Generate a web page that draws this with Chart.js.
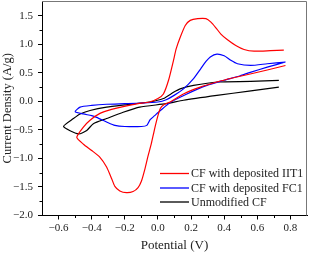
<!DOCTYPE html>
<html>
<head>
<meta charset="utf-8">
<script src="https://cdn.jsdelivr.net/npm/chart.js@4"></script>
<style>
html,body{margin:0;padding:0;background:#fff;}
#wrap{width:309px;height:254px;}
</style>
</head>
<body>
<div id="wrap"><canvas id="c" width="309" height="254"></canvas></div>
<script>
// ---- data ----
const seriesLabels = ["CF with deposited IIT1", "CF with deposited FC1", "Unmodified CF"];

const redV = [0.76, 0.68, 0.58, 0.52, 0.47, 0.42, 0.38, 0.35, 0.32, 0.29, 0.24, 0.195, 0.165, 0.134, 0.11, 0.094, 0.064, 0.033, 0.0, -0.05, -0.12, -0.21, -0.28, -0.35, -0.41, -0.45, -0.49,
              -0.45, -0.40, -0.35, -0.31, -0.28, -0.26, -0.23, -0.19, -0.15, -0.12, -0.10, -0.08, -0.06, -0.04, -0.02, 0.0, 0.015, 0.04, 0.074, 0.154, 0.255, 0.356, 0.45, 0.557, 0.66, 0.77];
const redI = [0.90, 0.89, 0.88, 0.91, 0.98, 1.08, 1.18, 1.29, 1.39, 1.45, 1.45, 1.42, 1.33, 1.12, 0.92, 0.72, 0.37, 0.13, 0.05, -0.01, -0.04, -0.09, -0.14, -0.21, -0.33, -0.45, -0.63,
              -0.75, -0.86, -0.98, -1.15, -1.35, -1.49, -1.57, -1.60, -1.58, -1.51, -1.40, -1.20, -0.96, -0.74, -0.48, -0.25, -0.12, -0.05, -0.01, 0.13, 0.25, 0.34, 0.41, 0.48, 0.55, 0.63];

const blueV = [0.77, 0.66, 0.56, 0.48, 0.44, 0.40, 0.356, 0.316, 0.29, 0.26, 0.215, 0.154, 0.10, 0.05, 0.0, -0.1, -0.2, -0.31, -0.40, -0.47, -0.50,
               -0.45, -0.40, -0.37, -0.31, -0.26, -0.2, -0.1, -0.067, -0.047, -0.02, 0.015, 0.074, 0.175, 0.296, 0.40, 0.497, 0.557, 0.66, 0.77];
const blueI = [0.69, 0.66, 0.63, 0.66, 0.72, 0.80, 0.83, 0.78, 0.70, 0.58, 0.40, 0.22, 0.11, 0.03, -0.01, -0.03, -0.04, -0.05, -0.07, -0.10, -0.18,
               -0.22, -0.25, -0.28, -0.36, -0.42, -0.44, -0.44, -0.42, -0.32, -0.25, -0.16, -0.02, 0.13, 0.28, 0.37, 0.45, 0.51, 0.60, 0.69];

const blackV = [0.73, 0.56, 0.36, 0.215, 0.134, 0.094, 0.033, -0.05, -0.2, -0.31, -0.41, -0.47, -0.51, -0.57,
                -0.48, -0.43, -0.39, -0.31, -0.21, -0.11, 0.05, 0.154, 0.356, 0.55, 0.73];
const blackI = [0.37, 0.35, 0.34, 0.28, 0.22, 0.16, 0.05, -0.01, -0.06, -0.10, -0.16, -0.22, -0.30, -0.44,
                -0.57, -0.51, -0.39, -0.30, -0.19, -0.10, -0.04, 0.02, 0.105, 0.18, 0.25];

const xTicks = [-0.6, -0.4, -0.2, 0.0, 0.2, 0.4, 0.6, 0.8];
const yTicks = [-2.0, -1.5, -1.0, -0.5, 0.0, 0.5, 1.0, 1.5];
const xMinor = [-0.5, -0.3, -0.1, 0.1, 0.3, 0.5, 0.7];
const yMinor = [-1.75, -1.25, -0.75, -0.25, 0.25, 0.75, 1.25];

function pts(xs, ys){ return xs.map((x,i)=>({x:x, y:ys[i]})); }
function fmt(v){ const s = Math.abs(v).toFixed(1); return v < -1e-9 ? '\u2212' + s : s; }

const FONT = "'Liberation Serif','Times New Roman',serif";

const framePlugin = {
  id: 'frame',
  afterDraw(chart){
    const ctx = chart.ctx, a = chart.chartArea;
    const xs = chart.scales.x, ys = chart.scales.y;
    ctx.save();
    ctx.strokeStyle = '#777';
    ctx.lineWidth = 1;
    ctx.beginPath();
    ctx.moveTo(a.left, a.top + 0.5); ctx.lineTo(a.right - 0.5, a.top + 0.5); ctx.lineTo(a.right - 0.5, a.bottom);
    ctx.stroke();
    ctx.strokeStyle = '#000';
    ctx.beginPath();
    xMinor.forEach(v => { const px = Math.round(xs.getPixelForValue(v)) + 0.5; ctx.moveTo(px, a.bottom); ctx.lineTo(px, a.bottom + 2.5); });
    yMinor.forEach(v => { const py = Math.round(ys.getPixelForValue(v)) + 0.5; ctx.moveTo(a.left, py); ctx.lineTo(a.left - 2.5, py); });
    ctx.stroke();
    ctx.font = "12px " + FONT;
    ctx.textBaseline = 'middle';
    ctx.textAlign = 'left';
    const offs = [42, 27.5, 13.5];
    chart.data.datasets.forEach((ds, i) => {
      const y = a.bottom - offs[i];
      ctx.strokeStyle = ds.borderColor;
      ctx.lineWidth = 1.3;
      ctx.beginPath(); ctx.moveTo(a.right - 147, y); ctx.lineTo(a.right - 118, y); ctx.stroke();
      ctx.fillStyle = '#222';
      ctx.fillText(ds.label, a.right - 116, y + 0.5);
    });
    ctx.restore();
  }
};

new Chart(document.getElementById('c'), {
  type: 'scatter',
  data: {
    datasets: [
      {label: seriesLabels[0], data: pts(redV, redI), borderColor: '#ff0000'},
      {label: seriesLabels[1], data: pts(blueV, blueI), borderColor: '#0000ff'},
      {label: seriesLabels[2], data: pts(blackV, blackI), borderColor: '#000000'}
    ].map(d => Object.assign(d, {showLine: true, pointRadius: 0, borderWidth: 1.2, tension: 0.2, fill: false, backgroundColor: d.borderColor}))
  },
  options: {
    responsive: false,
    animation: false,
    devicePixelRatio: 1,
    layout: {padding: {top: 1, right: 2, left: 0, bottom: 0}},
    plugins: {legend: {display: false}, tooltip: {enabled: false}},
    scales: {
      x: {
        type: 'linear', min: -0.7, max: 0.9,
        afterBuildTicks: s => { s.ticks = xTicks.map(v => ({value: v})); },
        afterFit: s => { s.height = 38.5; s.paddingLeft = 0; s.paddingRight = 0; },
        ticks: {callback: v => fmt(v), font: {family: FONT, size: 11}, color: '#222', padding: 2, maxRotation: 0, autoSkip: false},
        grid: {drawOnChartArea: false, drawTicks: true, tickLength: 4, tickColor: '#000'},
        border: {display: true, color: '#000', width: 1},
        title: {display: true, text: 'Potential (V)', font: {family: FONT, size: 13}, color: '#222', padding: {top: 0, bottom: 1}}
      },
      y: {
        type: 'linear', min: -2.0, max: 1.76,
        afterBuildTicks: s => { s.ticks = yTicks.map(v => ({value: v})); },
        afterFit: s => { s.width = 42; s.paddingTop = 0; s.paddingBottom = 0; },
        ticks: {callback: v => fmt(v), font: {family: FONT, size: 11}, color: '#222', padding: 5, autoSkip: false},
        grid: {drawOnChartArea: false, drawTicks: true, tickLength: 4, tickColor: '#000'},
        border: {display: true, color: '#000', width: 1},
        title: {display: true, text: 'Current Density (A/g)', font: {family: FONT, size: 12.5}, color: '#222', padding: {top: 0, bottom: 0}}
      }
    }
  },
  plugins: [framePlugin]
});
</script>
</body>
</html>
